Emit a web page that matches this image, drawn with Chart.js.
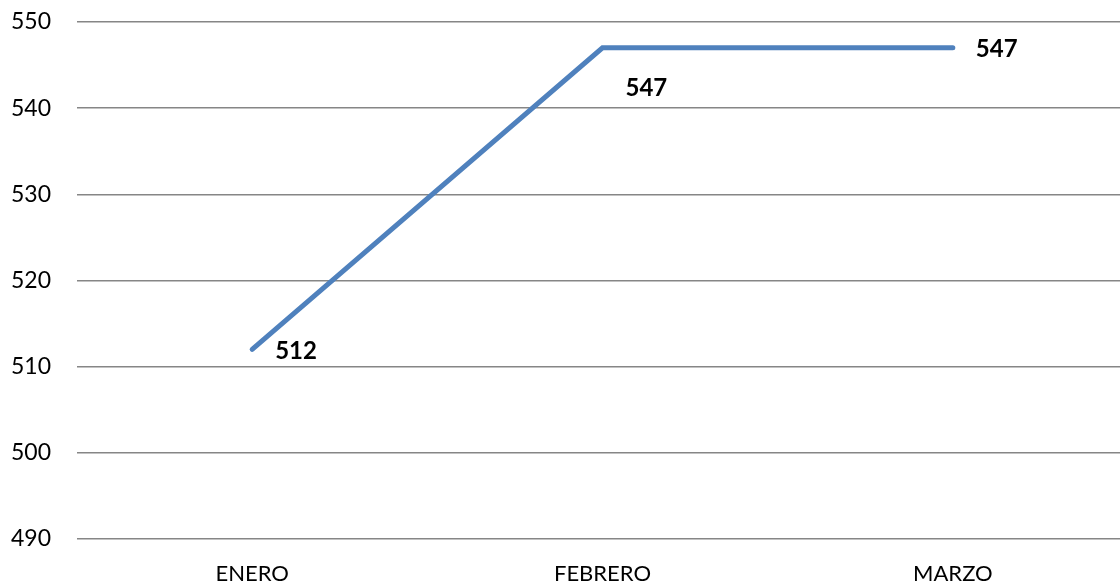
<!DOCTYPE html>
<html>
<head>
<meta charset="utf-8">
<script src="https://cdn.jsdelivr.net/npm/chart.js@4.4.1/dist/chart.umd.min.js"></script>
<style>
  html, body { margin: 0; padding: 0; background: #fff; overflow: hidden; }
  #wrap { width: 1128px; height: 588px; }
</style>
</head>
<body>
<div id="wrap"><canvas id="chart" width="1128" height="588"></canvas></div>
<script>
// datos
const MESES = ["ENERO", "FEBRERO", "MARZO"];
const VALORES = [512, 547, 547];
const Y_MIN = 490;
const Y_MAX = 550;
const Y_PASO = 10;

const AZUL = "#4F81BD";
const GRIS = "#868686";
const FUENTE = "Lato, 'Open Sans', sans-serif";

// desplazamiento de cada etiqueta respecto a su punto (px)
const ETIQ_OFFSET = [[23, 2], [23, 40], [23, 1]];

const etiquetas = {
    id: "etiquetas",
    afterDatasetsDraw(chart) {
        const { ctx } = chart;
        const meta = chart.getDatasetMeta(0);
        ctx.save();
        ctx.font = "bold 24px " + FUENTE;
        ctx.fillStyle = "#000";
        ctx.textAlign = "left";
        ctx.textBaseline = "middle";
        meta.data.forEach((pt, i) => {
            const [dx, dy] = ETIQ_OFFSET[i];
            ctx.fillText(String(VALORES[i]), pt.x + dx, pt.y + dy);
        });
        ctx.restore();
    },
};

new Chart(document.getElementById("chart").getContext("2d"), {
    type: "line",
    data: {
        labels: MESES,
        datasets: [{
            data: VALORES,
            borderColor: AZUL,
            borderWidth: 5,
            borderCapStyle: "round",
            borderJoinStyle: "miter",
            pointRadius: 0,
            tension: 0,
            fill: false,
        }],
    },
    options: {
        responsive: false,
        animation: false,
        layout: { padding: { top: 22, left: 0, right: 0, bottom: 0 } },
        plugins: { legend: { display: false }, tooltip: { enabled: false } },
        scales: {
            x: {
                offset: true,
                grid: { display: false, drawTicks: false },
                border: { display: false },
                ticks: { color: "#000", font: { family: FUENTE, size: 22 }, padding: 22 },
                afterFit: (s) => { s.height = 49; s.paddingLeft = 0; s.paddingRight = 0; },
            },
            y: {
                min: Y_MIN,
                max: Y_MAX,
                grid: { color: GRIS, lineWidth: 1.5, drawTicks: false },
                border: { display: false },
                ticks: { stepSize: Y_PASO, color: "#000", font: { family: FUENTE, size: 23 }, padding: 26 },
                afterFit: (s) => { s.width = 77; s.paddingTop = 0; s.paddingBottom = 0; },
            },
        },
    },
    plugins: [etiquetas],
});
</script>
</body>
</html>
